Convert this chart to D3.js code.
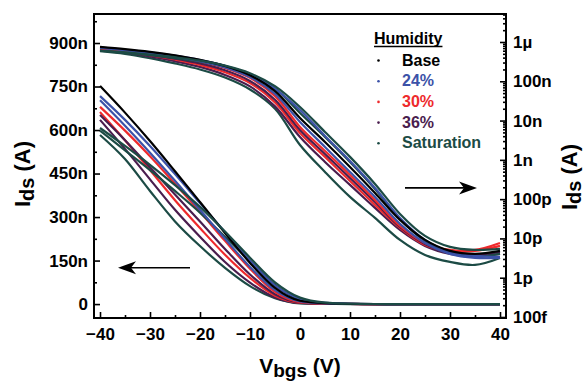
<!DOCTYPE html>
<html>
<head>
<meta charset="utf-8">
<script src="https://cdn.jsdelivr.net/npm/d3@7"></script>
<style>
  html, body { margin: 0; padding: 0; background: #fff; }
  svg text { font-family: 'Liberation Sans', Arial, sans-serif; font-weight: bold; }
</style>
</head>
<body>
<div id="chart"></div>
<script>
// back gate sweep (V)
const vbgs = [-40, -35, -30, -25, -20, -15, -10, -5, 0, 5, 10, 15, 20, 25, 30, 35, 40];

// drain current in nA - same sweeps go on the linear (left) and log (right) axis
const base  = [752, 660, 562, 458, 352, 245, 142, 56, 11.6, 2.85, 0.659, 0.144, 0.0296, 0.00916, 0.00481, 0.00404, 0.00481];
const rh24a = [717, 635, 545, 448, 348, 248, 150, 64, 18.6, 4.06, 0.937, 0.193, 0.0333, 0.00916, 0.00453, 0.00359, 0.00338];
const rh24b = [703, 615, 522, 425, 325, 225, 128, 48, 9.2, 2.13, 0.492, 0.114, 0.0234, 0.00767, 0.00404, 0.00319, 0.00319];
const rh30a = [680, 598, 510, 415, 318, 218, 122, 42, 6.87, 1.68, 0.413, 0.0955, 0.0208, 0.00767, 0.00509, 0.00509, 0.00767];
const rh30b = [662, 565, 462, 358, 262, 170, 90, 29, 4.83, 1.19, 0.29, 0.0712, 0.0185, 0.00684, 0.00481, 0.00481, 0.00644];
const rh36a = [652, 565, 472, 378, 285, 190, 102, 34, 5.77, 1.41, 0.346, 0.0849, 0.0196, 0.00724, 0.00428, 0.0038, 0.00453];
const rh36b = [635, 535, 430, 325, 232, 145, 74, 23, 3.83, 0.885, 0.23, 0.0597, 0.0164, 0.00644, 0.00404, 0.00359, 0.00404];
const satA  = [607, 545, 480, 410, 335, 250, 160, 75, 22.2, 5.13, 1.19, 0.244, 0.042, 0.0116, 0.00608, 0.00509, 0.00541];
const satB  = [598, 530, 462, 390, 315, 232, 148, 66, 15.6, 3.83, 0.885, 0.182, 0.0313, 0.00863, 0.00428, 0.00338, 0.00404];
const satC  = [583, 500, 390, 285, 200, 125, 62, 20, 2.39, 0.492, 0.114, 0.0333, 0.00916, 0.0038, 0.00252, 0.00212, 0.00319];

const humidity = ['Base', '24%', '30%', '36%', 'Saturation'];
const colors = ['#000000', '#3c52a8', '#ee2a2c', '#4a1d4e', '#1c4b45'];

// tick labels
const xTicks = [-40, -30, -20, -10, 0, 10, 20, 30, 40];
const linTicks = [0, 150, 300, 450, 600, 750, 900];
const linLabels = ['0', '150n', '300n', '450n', '600n', '750n', '900n'];
const logTicks = [1e-13, 1e-12, 1e-11, 1e-10, 1e-9, 1e-8, 1e-7, 1e-6];
const logLabels = ['100f', '1p', '10p', '100p', '1n', '10n', '100n', '1\u00b5'];

const series = [
  { name: 'Base', values: base },
  { name: '24%', values: rh24a },
  { name: '24%', values: rh24b },
  { name: '30%', values: rh30a },
  { name: '30%', values: rh30b },
  { name: '36%', values: rh36a },
  { name: '36%', values: rh36b },
  { name: 'Saturation', values: satA },
  { name: 'Saturation', values: satB },
  { name: 'Saturation', values: satC },
];
// draw order: keep the low saturation curve underneath
const drawOrder = [9, 6, 4, 5, 3, 8, 2, 1, 0, 7];

const W = 587, H = 381;
const mLeft = 94, mRight = 506, mTop = 14, mBottom = 318;
const fontTick = 17;

const svg = d3.select('#chart').append('svg').attr('width', W).attr('height', H);

const color = d3.scaleOrdinal().domain(humidity).range(colors);
const x = d3.scaleLinear().domain([-41.2, 41.2]).range([mLeft, mRight]);
const yLin = d3.scaleLinear().domain([-48, 1000]).range([mBottom, mTop]);
const yLog = d3.scaleLog().domain([9.43e-14, 5.16e-6]).range([mBottom, mTop]);

svg.append('clipPath').attr('id', 'plotclip')
  .append('rect').attr('x', mLeft).attr('y', mTop).attr('width', mRight - mLeft).attr('height', mBottom - mTop);

// curves
const lineLin = d3.line()
  .x((d, i) => x(vbgs[i]))
  .y((d) => yLin(d))
  .curve(d3.curveMonotoneX);
const lineLog = d3.line()
  .x((d, i) => x(vbgs[i]))
  .y((d) => yLog(d * 1e-9))
  .curve(d3.curveCatmullRom.alpha(0.5));

const plot = svg.append('g').attr('clip-path', 'url(#plotclip)');
const ordered = drawOrder.map((i) => series[i]);

plot.selectAll('path.lin')
  .data(ordered)
  .enter()
  .append('path')
  .attr('class', 'lin')
  .attr('d', (d) => lineLin(d.values))
  .attr('fill', 'none')
  .attr('stroke', (d) => color(d.name))
  .attr('stroke-width', 2.2)
  .attr('stroke-linejoin', 'round');

plot.selectAll('path.log')
  .data(ordered)
  .enter()
  .append('path')
  .attr('class', 'log')
  .attr('d', (d) => lineLog(d.values))
  .attr('fill', 'none')
  .attr('stroke', (d) => color(d.name))
  .attr('stroke-width', 2.2)
  .attr('stroke-linejoin', 'round');

// axes - ticks point into the frame
const styleAxis = (g) => {
  g.select('.domain').remove();
  g.selectAll('line').attr('stroke', '#000').attr('stroke-width', 1.6);
  g.selectAll('text').style('font-size', fontTick + 'px').attr('fill', '#000');
};

const xMinor = d3.range(-40, 41, 5).filter((v) => v % 10 !== 0);
svg.append('g').attr('transform', `translate(0,${mBottom})`)
  .call(d3.axisBottom(x).tickValues(xMinor).tickSize(-3).tickFormat(''))
  .call(styleAxis);
svg.append('g').attr('transform', `translate(0,${mBottom})`)
  .call(d3.axisBottom(x).tickValues(xTicks).tickSize(-6).tickPadding(10))
  .call(styleAxis);

const linMinor = [75, 225, 375, 525, 675, 825, 975];
svg.append('g').attr('transform', `translate(${mLeft},0)`)
  .call(d3.axisLeft(yLin).tickValues(linMinor).tickSize(-3).tickFormat(''))
  .call(styleAxis);
svg.append('g').attr('transform', `translate(${mLeft},0)`)
  .call(d3.axisLeft(yLin).tickValues(linTicks).tickSize(-6).tickPadding(6)
    .tickFormat((d, i) => linLabels[i]))
  .call(styleAxis);

const logMinor = [];
d3.range(-14, -5).forEach((e) => {
  for (let k = 2; k <= 9; k++) {
    const v = k * Math.pow(10, e);
    if (v > yLog.domain()[0] && v < yLog.domain()[1]) logMinor.push(v);
  }
});
svg.append('g').attr('transform', `translate(${mRight},0)`)
  .call(d3.axisRight(yLog).tickValues(logMinor).tickSize(-3).tickFormat(''))
  .call(styleAxis);
svg.append('g').attr('transform', `translate(${mRight},0)`)
  .call(d3.axisRight(yLog).tickValues(logTicks).tickSize(-6).tickPadding(7)
    .tickFormat((d, i) => logLabels[i]))
  .call(styleAxis);

// frame
svg.append('rect')
  .attr('x', mLeft).attr('y', mTop)
  .attr('width', mRight - mLeft).attr('height', mBottom - mTop)
  .attr('fill', 'none').attr('stroke', '#000').attr('stroke-width', 2);

// axis titles
const yTitle = (tx, ty) => {
  const t = svg.append('text')
    .attr('transform', `translate(${tx},${ty}) rotate(-90)`)
    .attr('text-anchor', 'middle')
    .style('font-size', '22px');
  t.append('tspan').text('I');
  t.append('tspan').attr('dy', 4).style('font-size', '20px').text('ds');
  t.append('tspan').attr('dy', -4).text(' (A)');
};
yTitle(30, 174);
yTitle(577, 177);

const xt = svg.append('text')
  .attr('x', 300).attr('y', 373)
  .attr('text-anchor', 'middle')
  .style('font-size', '21px');
xt.append('tspan').text('V');
xt.append('tspan').attr('dy', 4).style('font-size', '19px').text('bgs');
xt.append('tspan').attr('dy', -4).text(' (V)');

// arrows showing which axis belongs to which bundle
const arrow = (x1, x2, yy) => {
  const dir = x2 < x1 ? -1 : 1;
  svg.append('line')
    .attr('x1', x1).attr('x2', x2 - dir * 6)
    .attr('y1', yy).attr('y2', yy)
    .attr('stroke', '#000').attr('stroke-width', 1.6);
  svg.append('path')
    .attr('d', `M${x2},${yy} L${x2 - dir * 18},${yy - 6.5} L${x2 - dir * 13},${yy} L${x2 - dir * 18},${yy + 6.5} Z`)
    .attr('fill', '#000');
};
arrow(x(-22), x(-36.4), yLin(125));
arrow(x(21), x(35.4), yLog(1.93e-10));

// legend
const lg = svg.append('g');
const title = lg.append('text').attr('x', 374).attr('y', 44)
  .style('font-size', '16px').attr('fill', '#000').text('Humidity');
const tw = title.node().getComputedTextLength();
lg.append('line').attr('x1', 374).attr('x2', 374 + tw).attr('y1', 46.5).attr('y2', 46.5)
  .attr('stroke', '#000').attr('stroke-width', 1.5);

humidity.forEach((h, i) => {
  const yy = 65.5 + i * 20.7;
  lg.append('circle').attr('cx', 378.5).attr('cy', yy - 5).attr('r', 1.3).attr('fill', color(h));
  lg.append('text').attr('x', 402).attr('y', yy)
    .style('font-size', '16px').attr('fill', color(h)).text(h);
});
</script>
</body>
</html>
